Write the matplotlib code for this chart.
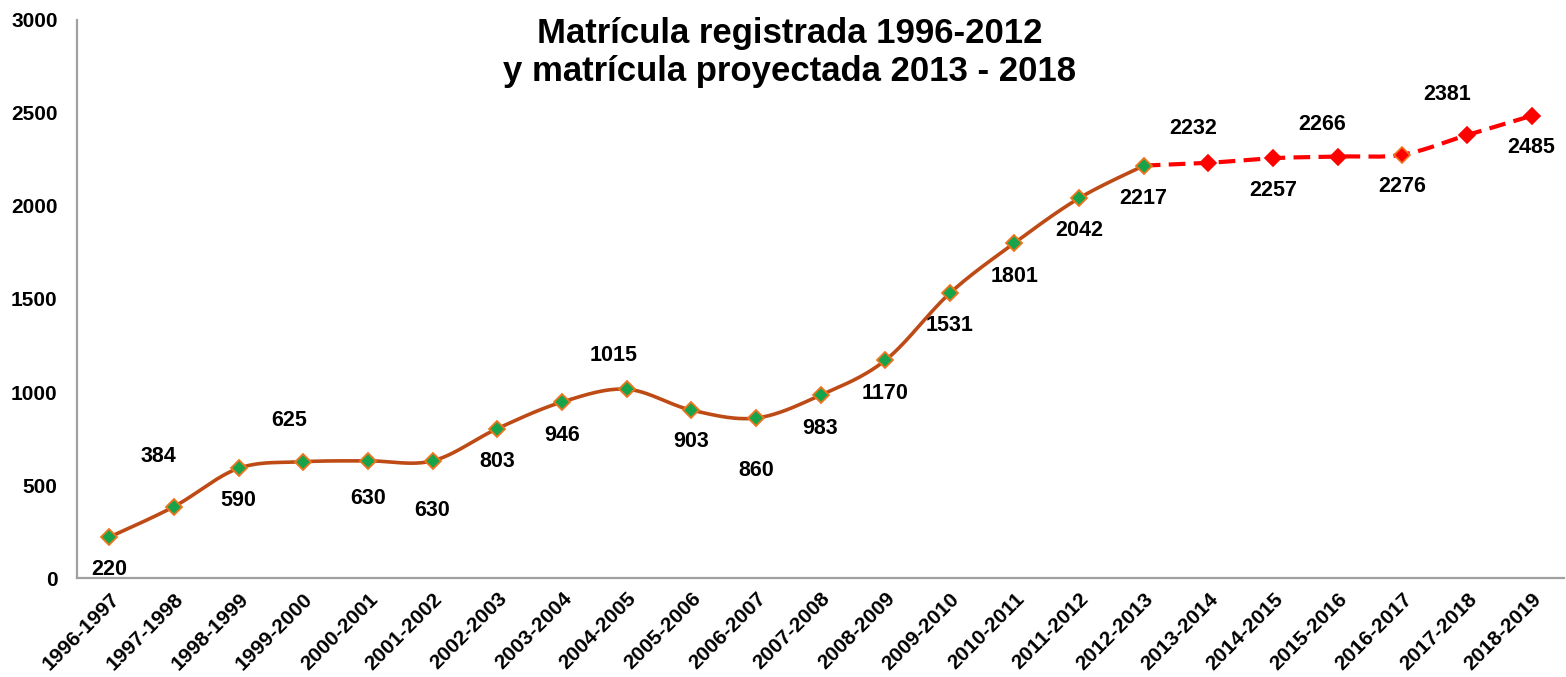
import matplotlib
matplotlib.use('Agg')
import matplotlib.pyplot as plt
import numpy as np

# school years on the x axis
years = ['1996-1997', '1997-1998', '1998-1999', '1999-2000', '2000-2001', '2001-2002',
         '2002-2003', '2003-2004', '2004-2005', '2005-2006', '2006-2007', '2007-2008',
         '2008-2009', '2009-2010', '2010-2011', '2011-2012', '2012-2013', '2013-2014',
         '2014-2015', '2015-2016', '2016-2017', '2017-2018', '2018-2019']

# registered enrolment (1996-1997 .. 2012-2013)
registered = [220, 384, 590, 625, 630, 630, 803, 946, 1015, 903, 860, 983,
              1170, 1531, 1801, 2042, 2217]

# projected enrolment (2012-2013 .. 2018-2019), starts at the last registered value
projected = [2217, 2232, 2257, 2266, 2276, 2381, 2485]

# offset of each data label in points (negative dy = below the point)
label_dy = [-23, 36, -23, 30, -27, -36, -24, -24, 24, -23, -38, -24,
            -24, -23, -24, -23, -24, 25, -23, 23, -23, 29, -23]
label_dx = [0, -11, 0, -10, 0, 0, 0, 0, -9, 0, 0, 0,
            0, 0, 0, 0, 0, -11, 0, -11, 0, -14, 0]

plt.rcParams['font.family'] = ['Liberation Sans', 'DejaVu Sans']
plt.rcParams['font.weight'] = 'bold'

line_brown = '#BE4B16'
edge_orange = '#F0741E'
green = '#17A34A'
red = '#FF0000'


def smooth(xs, ys, n=30):
    # Excel-like smoothed line: Catmull-Rom spline through the points
    xs = np.asarray(xs, float)
    ys = np.asarray(ys, float)
    px = np.concatenate([[xs[0]], xs, [xs[-1]]])
    py = np.concatenate([[ys[0]], ys, [ys[-1]]])
    out_x, out_y = [], []
    t = np.linspace(0, 1, n)
    for i in range(1, len(px) - 2):
        p0x, p1x, p2x, p3x = px[i - 1:i + 3]
        p0y, p1y, p2y, p3y = py[i - 1:i + 3]
        c1x, c1y = p1x + (p2x - p0x) / 6, p1y + (p2y - p0y) / 6
        c2x, c2y = p2x - (p3x - p1x) / 6, p2y - (p3y - p1y) / 6
        bx = (1 - t) ** 3 * p1x + 3 * (1 - t) ** 2 * t * c1x + 3 * (1 - t) * t ** 2 * c2x + t ** 3 * p2x
        by = (1 - t) ** 3 * p1y + 3 * (1 - t) ** 2 * t * c1y + 3 * (1 - t) * t ** 2 * c2y + t ** 3 * p2y
        out_x.extend(bx)
        out_y.extend(by)
    return np.array(out_x), np.array(out_y)


fig = plt.figure(figsize=(15.66, 6.77), dpi=100)
ax = fig.add_axes([0.0492, 0.1462, 0.9495, 0.8243])

x_reg = np.arange(len(registered))
x_proj = np.arange(len(registered) - 1, len(years))

# projected series (dashed red)
sx, sy = smooth(x_proj, projected)
ax.plot(sx, sy, color=red, lw=3, ls=(0, (4, 2)), zorder=2)
pe = [red] * len(projected)
pe[4] = edge_orange
for xi, yi, ec in zip(x_proj[1:], projected[1:], pe[1:]):
    ax.plot(xi, yi, marker='D', ms=8, mfc=red, mec=ec, mew=1.2, zorder=4)

# registered series (smooth brown line with green diamonds)
sx, sy = smooth(x_reg, registered)
ax.plot(sx, sy, color=line_brown, lw=2.6, zorder=3)
ax.plot(x_reg, registered, ls='none', marker='D', ms=8.5, mfc=green, mec=edge_orange,
        mew=1.3, zorder=5)

# data labels
all_vals = registered + projected[1:]
for i, v in enumerate(all_vals):
    ax.annotate(str(v), (i, v), xytext=(label_dx[i], label_dy[i]), textcoords='offset points',
                ha='center', va='center', fontsize=15.5, fontweight='bold', color='black')

ax.set_xlim(-0.5, len(years) - 0.5)
ax.set_ylim(0, 3000)
ax.set_yticks(np.arange(0, 3001, 500))
ax.set_xticks(np.arange(len(years)))
ax.set_xticklabels(years, rotation=45, ha='right', rotation_mode='anchor')
ax.tick_params(axis='both', length=0, labelsize=15)
ax.tick_params(axis='x', pad=8)
ax.tick_params(axis='y', pad=14)
for lab in ax.get_xticklabels() + ax.get_yticklabels():
    lab.set_fontweight('bold')

for s in ['top', 'right']:
    ax.spines[s].set_visible(False)
for s in ['left', 'bottom']:
    ax.spines[s].set_color('#a0a0a0')
    ax.spines[s].set_linewidth(1.6)

fig.text(0.504, 0.922, 'Matrícula registrada 1996-2012\ny matrícula proyectada 2013 - 2018',
         ha='center', va='center', fontsize=25, fontweight='bold', linespacing=1.2)

fig.patch.set_facecolor('white')
plt.savefig('out.png', dpi=100, facecolor='white')
